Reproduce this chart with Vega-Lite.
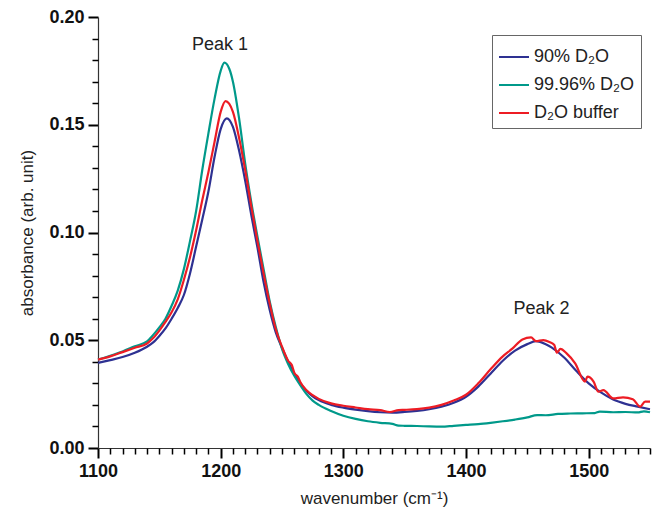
{
  "$schema": "https://vega.github.io/schema/vega-lite/v6.json",
  "width": 552,
  "height": 431,
  "autosize": {"type": "none"},
  "padding": {"left": 98, "top": 17, "right": 9, "bottom": 73},
  "background": "white",
  "config": {
    "view": {"stroke": null},
    "font": "Liberation Sans"
  },
  "datasets": {
    "spectra": [
      {"series": "90% D₂O", "wn": 1100, "abs": 0.0395},
      {"series": "90% D₂O", "wn": 1110, "abs": 0.0408},
      {"series": "90% D₂O", "wn": 1120, "abs": 0.0422},
      {"series": "90% D₂O", "wn": 1130, "abs": 0.0442},
      {"series": "90% D₂O", "wn": 1140, "abs": 0.0470},
      {"series": "90% D₂O", "wn": 1145, "abs": 0.0490},
      {"series": "90% D₂O", "wn": 1150, "abs": 0.0520},
      {"series": "90% D₂O", "wn": 1155, "abs": 0.0555},
      {"series": "90% D₂O", "wn": 1160, "abs": 0.0600},
      {"series": "90% D₂O", "wn": 1165, "abs": 0.0650},
      {"series": "90% D₂O", "wn": 1170, "abs": 0.0710},
      {"series": "90% D₂O", "wn": 1175, "abs": 0.0810},
      {"series": "90% D₂O", "wn": 1180, "abs": 0.0935},
      {"series": "90% D₂O", "wn": 1185, "abs": 0.1060},
      {"series": "90% D₂O", "wn": 1190, "abs": 0.1190},
      {"series": "90% D₂O", "wn": 1195, "abs": 0.1350},
      {"series": "90% D₂O", "wn": 1200, "abs": 0.1480},
      {"series": "90% D₂O", "wn": 1205, "abs": 0.1530},
      {"series": "90% D₂O", "wn": 1210, "abs": 0.1490},
      {"series": "90% D₂O", "wn": 1215, "abs": 0.1380},
      {"series": "90% D₂O", "wn": 1220, "abs": 0.1240},
      {"series": "90% D₂O", "wn": 1225, "abs": 0.1080},
      {"series": "90% D₂O", "wn": 1230, "abs": 0.0930},
      {"series": "90% D₂O", "wn": 1235, "abs": 0.0770},
      {"series": "90% D₂O", "wn": 1240, "abs": 0.0640},
      {"series": "90% D₂O", "wn": 1245, "abs": 0.0535},
      {"series": "90% D₂O", "wn": 1250, "abs": 0.0465},
      {"series": "90% D₂O", "wn": 1255, "abs": 0.0400},
      {"series": "90% D₂O", "wn": 1260, "abs": 0.0345},
      {"series": "90% D₂O", "wn": 1265, "abs": 0.0300},
      {"series": "90% D₂O", "wn": 1270, "abs": 0.0265},
      {"series": "90% D₂O", "wn": 1275, "abs": 0.0240},
      {"series": "90% D₂O", "wn": 1280, "abs": 0.0222},
      {"series": "90% D₂O", "wn": 1290, "abs": 0.0200},
      {"series": "90% D₂O", "wn": 1300, "abs": 0.0187},
      {"series": "90% D₂O", "wn": 1310, "abs": 0.0178},
      {"series": "90% D₂O", "wn": 1320, "abs": 0.0171},
      {"series": "90% D₂O", "wn": 1330, "abs": 0.0166},
      {"series": "90% D₂O", "wn": 1340, "abs": 0.0164},
      {"series": "90% D₂O", "wn": 1350, "abs": 0.0167},
      {"series": "90% D₂O", "wn": 1360, "abs": 0.0172},
      {"series": "90% D₂O", "wn": 1370, "abs": 0.0180},
      {"series": "90% D₂O", "wn": 1380, "abs": 0.0192},
      {"series": "90% D₂O", "wn": 1390, "abs": 0.0210},
      {"series": "90% D₂O", "wn": 1400, "abs": 0.0238},
      {"series": "90% D₂O", "wn": 1410, "abs": 0.0285},
      {"series": "90% D₂O", "wn": 1420, "abs": 0.0345},
      {"series": "90% D₂O", "wn": 1430, "abs": 0.0405},
      {"series": "90% D₂O", "wn": 1440, "abs": 0.0452},
      {"series": "90% D₂O", "wn": 1450, "abs": 0.0482},
      {"series": "90% D₂O", "wn": 1457, "abs": 0.0496},
      {"series": "90% D₂O", "wn": 1465, "abs": 0.0482},
      {"series": "90% D₂O", "wn": 1470, "abs": 0.0466},
      {"series": "90% D₂O", "wn": 1480, "abs": 0.0420},
      {"series": "90% D₂O", "wn": 1490, "abs": 0.0357},
      {"series": "90% D₂O", "wn": 1500, "abs": 0.0300},
      {"series": "90% D₂O", "wn": 1510, "abs": 0.0258},
      {"series": "90% D₂O", "wn": 1520, "abs": 0.0225},
      {"series": "90% D₂O", "wn": 1530, "abs": 0.0205},
      {"series": "90% D₂O", "wn": 1540, "abs": 0.0192},
      {"series": "90% D₂O", "wn": 1550, "abs": 0.0180},

      {"series": "99.96% D₂O", "wn": 1100, "abs": 0.0410},
      {"series": "99.96% D₂O", "wn": 1110, "abs": 0.0428},
      {"series": "99.96% D₂O", "wn": 1120, "abs": 0.0448},
      {"series": "99.96% D₂O", "wn": 1130, "abs": 0.0472},
      {"series": "99.96% D₂O", "wn": 1140, "abs": 0.0495},
      {"series": "99.96% D₂O", "wn": 1145, "abs": 0.0525},
      {"series": "99.96% D₂O", "wn": 1150, "abs": 0.0560},
      {"series": "99.96% D₂O", "wn": 1155, "abs": 0.0600},
      {"series": "99.96% D₂O", "wn": 1160, "abs": 0.0660},
      {"series": "99.96% D₂O", "wn": 1165, "abs": 0.0730},
      {"series": "99.96% D₂O", "wn": 1170, "abs": 0.0830},
      {"series": "99.96% D₂O", "wn": 1175, "abs": 0.0960},
      {"series": "99.96% D₂O", "wn": 1180, "abs": 0.1100},
      {"series": "99.96% D₂O", "wn": 1185, "abs": 0.1290},
      {"series": "99.96% D₂O", "wn": 1190, "abs": 0.1460},
      {"series": "99.96% D₂O", "wn": 1195, "abs": 0.1620},
      {"series": "99.96% D₂O", "wn": 1200, "abs": 0.1750},
      {"series": "99.96% D₂O", "wn": 1203, "abs": 0.1788},
      {"series": "99.96% D₂O", "wn": 1207, "abs": 0.1760},
      {"series": "99.96% D₂O", "wn": 1210, "abs": 0.1700},
      {"series": "99.96% D₂O", "wn": 1215, "abs": 0.1530},
      {"series": "99.96% D₂O", "wn": 1220, "abs": 0.1320},
      {"series": "99.96% D₂O", "wn": 1225, "abs": 0.1140},
      {"series": "99.96% D₂O", "wn": 1230, "abs": 0.0980},
      {"series": "99.96% D₂O", "wn": 1235, "abs": 0.0830},
      {"series": "99.96% D₂O", "wn": 1240, "abs": 0.0680},
      {"series": "99.96% D₂O", "wn": 1245, "abs": 0.0560},
      {"series": "99.96% D₂O", "wn": 1250, "abs": 0.0460},
      {"series": "99.96% D₂O", "wn": 1255, "abs": 0.0390},
      {"series": "99.96% D₂O", "wn": 1260, "abs": 0.0335},
      {"series": "99.96% D₂O", "wn": 1265, "abs": 0.0290},
      {"series": "99.96% D₂O", "wn": 1270, "abs": 0.0250},
      {"series": "99.96% D₂O", "wn": 1275, "abs": 0.0220},
      {"series": "99.96% D₂O", "wn": 1280, "abs": 0.0200},
      {"series": "99.96% D₂O", "wn": 1290, "abs": 0.0172},
      {"series": "99.96% D₂O", "wn": 1300, "abs": 0.0150},
      {"series": "99.96% D₂O", "wn": 1310, "abs": 0.0135},
      {"series": "99.96% D₂O", "wn": 1320, "abs": 0.0124},
      {"series": "99.96% D₂O", "wn": 1330, "abs": 0.0117},
      {"series": "99.96% D₂O", "wn": 1340, "abs": 0.0112},
      {"series": "99.96% D₂O", "wn": 1345, "abs": 0.0104},
      {"series": "99.96% D₂O", "wn": 1350, "abs": 0.0103},
      {"series": "99.96% D₂O", "wn": 1360, "abs": 0.0102},
      {"series": "99.96% D₂O", "wn": 1370, "abs": 0.0100},
      {"series": "99.96% D₂O", "wn": 1380, "abs": 0.0099},
      {"series": "99.96% D₂O", "wn": 1390, "abs": 0.0103},
      {"series": "99.96% D₂O", "wn": 1400, "abs": 0.0107},
      {"series": "99.96% D₂O", "wn": 1410, "abs": 0.0111},
      {"series": "99.96% D₂O", "wn": 1420, "abs": 0.0117},
      {"series": "99.96% D₂O", "wn": 1430, "abs": 0.0124},
      {"series": "99.96% D₂O", "wn": 1440, "abs": 0.0132},
      {"series": "99.96% D₂O", "wn": 1450, "abs": 0.0142},
      {"series": "99.96% D₂O", "wn": 1458, "abs": 0.0153},
      {"series": "99.96% D₂O", "wn": 1465, "abs": 0.0152},
      {"series": "99.96% D₂O", "wn": 1475, "abs": 0.0158},
      {"series": "99.96% D₂O", "wn": 1485, "abs": 0.0160},
      {"series": "99.96% D₂O", "wn": 1495, "abs": 0.0161},
      {"series": "99.96% D₂O", "wn": 1505, "abs": 0.0162},
      {"series": "99.96% D₂O", "wn": 1509, "abs": 0.0169},
      {"series": "99.96% D₂O", "wn": 1520, "abs": 0.0166},
      {"series": "99.96% D₂O", "wn": 1530, "abs": 0.0167},
      {"series": "99.96% D₂O", "wn": 1540, "abs": 0.0165},
      {"series": "99.96% D₂O", "wn": 1545, "abs": 0.0170},
      {"series": "99.96% D₂O", "wn": 1550, "abs": 0.0166},

      {"series": "D₂O buffer", "wn": 1100, "abs": 0.0410},
      {"series": "D₂O buffer", "wn": 1110, "abs": 0.0425},
      {"series": "D₂O buffer", "wn": 1120, "abs": 0.0445},
      {"series": "D₂O buffer", "wn": 1130, "abs": 0.0465},
      {"series": "D₂O buffer", "wn": 1140, "abs": 0.0485},
      {"series": "D₂O buffer", "wn": 1145, "abs": 0.0510},
      {"series": "D₂O buffer", "wn": 1150, "abs": 0.0545},
      {"series": "D₂O buffer", "wn": 1155, "abs": 0.0585},
      {"series": "D₂O buffer", "wn": 1160, "abs": 0.0630},
      {"series": "D₂O buffer", "wn": 1165, "abs": 0.0690},
      {"series": "D₂O buffer", "wn": 1170, "abs": 0.0780},
      {"series": "D₂O buffer", "wn": 1175, "abs": 0.0885},
      {"series": "D₂O buffer", "wn": 1180, "abs": 0.1010},
      {"series": "D₂O buffer", "wn": 1185, "abs": 0.1150},
      {"series": "D₂O buffer", "wn": 1190, "abs": 0.1280},
      {"series": "D₂O buffer", "wn": 1195, "abs": 0.1420},
      {"series": "D₂O buffer", "wn": 1200, "abs": 0.1560},
      {"series": "D₂O buffer", "wn": 1204, "abs": 0.1610},
      {"series": "D₂O buffer", "wn": 1210, "abs": 0.1560},
      {"series": "D₂O buffer", "wn": 1215, "abs": 0.1440},
      {"series": "D₂O buffer", "wn": 1220, "abs": 0.1290},
      {"series": "D₂O buffer", "wn": 1225, "abs": 0.1120},
      {"series": "D₂O buffer", "wn": 1230, "abs": 0.0960},
      {"series": "D₂O buffer", "wn": 1235, "abs": 0.0810},
      {"series": "D₂O buffer", "wn": 1240, "abs": 0.0670},
      {"series": "D₂O buffer", "wn": 1245, "abs": 0.0550},
      {"series": "D₂O buffer", "wn": 1250, "abs": 0.0470},
      {"series": "D₂O buffer", "wn": 1255, "abs": 0.0405},
      {"series": "D₂O buffer", "wn": 1258, "abs": 0.0385},
      {"series": "D₂O buffer", "wn": 1260, "abs": 0.0350},
      {"series": "D₂O buffer", "wn": 1263, "abs": 0.0330},
      {"series": "D₂O buffer", "wn": 1265, "abs": 0.0305},
      {"series": "D₂O buffer", "wn": 1270, "abs": 0.0268},
      {"series": "D₂O buffer", "wn": 1275, "abs": 0.0245},
      {"series": "D₂O buffer", "wn": 1280, "abs": 0.0228},
      {"series": "D₂O buffer", "wn": 1290, "abs": 0.0207},
      {"series": "D₂O buffer", "wn": 1300, "abs": 0.0196},
      {"series": "D₂O buffer", "wn": 1310, "abs": 0.0188},
      {"series": "D₂O buffer", "wn": 1320, "abs": 0.0180},
      {"series": "D₂O buffer", "wn": 1330, "abs": 0.0176},
      {"series": "D₂O buffer", "wn": 1338, "abs": 0.0167},
      {"series": "D₂O buffer", "wn": 1345, "abs": 0.0176},
      {"series": "D₂O buffer", "wn": 1350, "abs": 0.0177},
      {"series": "D₂O buffer", "wn": 1360, "abs": 0.0180},
      {"series": "D₂O buffer", "wn": 1370, "abs": 0.0187},
      {"series": "D₂O buffer", "wn": 1380, "abs": 0.0200},
      {"series": "D₂O buffer", "wn": 1390, "abs": 0.0220},
      {"series": "D₂O buffer", "wn": 1400, "abs": 0.0247},
      {"series": "D₂O buffer", "wn": 1410, "abs": 0.0300},
      {"series": "D₂O buffer", "wn": 1420, "abs": 0.0365},
      {"series": "D₂O buffer", "wn": 1430, "abs": 0.0425},
      {"series": "D₂O buffer", "wn": 1438, "abs": 0.0462},
      {"series": "D₂O buffer", "wn": 1446, "abs": 0.0504},
      {"series": "D₂O buffer", "wn": 1453, "abs": 0.0513},
      {"series": "D₂O buffer", "wn": 1457, "abs": 0.0496},
      {"series": "D₂O buffer", "wn": 1463, "abs": 0.0501},
      {"series": "D₂O buffer", "wn": 1468, "abs": 0.0492},
      {"series": "D₂O buffer", "wn": 1472, "abs": 0.0478},
      {"series": "D₂O buffer", "wn": 1474, "abs": 0.0442},
      {"series": "D₂O buffer", "wn": 1477, "abs": 0.0460},
      {"series": "D₂O buffer", "wn": 1482, "abs": 0.0439},
      {"series": "D₂O buffer", "wn": 1489, "abs": 0.0393},
      {"series": "D₂O buffer", "wn": 1497, "abs": 0.0308},
      {"series": "D₂O buffer", "wn": 1499, "abs": 0.0331},
      {"series": "D₂O buffer", "wn": 1504, "abs": 0.0308},
      {"series": "D₂O buffer", "wn": 1508, "abs": 0.0261},
      {"series": "D₂O buffer", "wn": 1512, "abs": 0.0269},
      {"series": "D₂O buffer", "wn": 1520, "abs": 0.0230},
      {"series": "D₂O buffer", "wn": 1528, "abs": 0.0235},
      {"series": "D₂O buffer", "wn": 1536, "abs": 0.0226},
      {"series": "D₂O buffer", "wn": 1542, "abs": 0.0192},
      {"series": "D₂O buffer", "wn": 1546, "abs": 0.0215},
      {"series": "D₂O buffer", "wn": 1550, "abs": 0.0215}
    ],
    "labels": [
      {"text": "Peak 1", "wn": 1199.5, "abs": 0.187},
      {"text": "Peak 2", "wn": 1461.5, "abs": 0.0643}
    ]
  },
  "resolve": {"axis": {"x": "independent", "y": "independent"}},
  "layer": [
    {
      "data": {"name": "spectra"},
      "mark": {"type": "line", "strokeWidth": 2.2, "interpolate": "monotone"},
      "encoding": {
        "x": {
          "field": "wn", "type": "quantitative",
          "scale": {"domain": [1100, 1550], "nice": false, "zero": false},
          "axis": {
            "orient": "bottom",
            "title": "wavenumber (cm⁻¹)",
            "values": [1100, 1200, 1300, 1400, 1500],
            "format": "d",
            "labelFlush": false,
            "labelOverlap": false,
            "grid": false,
            "ticks": true,
            "tickSize": 10,
            "tickWidth": 2,
            "tickColor": "black",
            "domainColor": "#333333",
            "domainWidth": 1.2,
            "labelFont": "Liberation Sans",
            "labelFontWeight": "bold",
            "labelFontSize": 18,
            "labelColor": "#111111",
            "labelPadding": 4,
            "titleFont": "Liberation Sans",
            "titleFontWeight": "normal",
            "titleFontSize": 17,
            "titleColor": "#222222",
            "titlePadding": 10
          }
        },
        "y": {
          "field": "abs", "type": "quantitative",
          "scale": {"domain": [0, 0.2], "nice": false},
          "axis": {
            "orient": "left",
            "title": "absorbance (arb. unit)",
            "values": [0, 0.05, 0.1, 0.15, 0.2],
            "format": ".2f",
            "labelFlush": false,
            "labelOverlap": false,
            "grid": false,
            "ticks": true,
            "tickSize": 10,
            "tickWidth": 2,
            "tickColor": "black",
            "domainColor": "#333333",
            "domainWidth": 1.2,
            "labelFont": "Liberation Sans",
            "labelFontWeight": "bold",
            "labelFontSize": 18,
            "labelColor": "#111111",
            "labelPadding": 4,
            "titleFont": "Liberation Sans",
            "titleFontWeight": "normal",
            "titleFontSize": 17,
            "titleColor": "#222222",
            "titlePadding": 12
          }
        },
        "color": {
          "field": "series", "type": "nominal",
          "scale": {
            "domain": ["90% D₂O", "99.96% D₂O", "D₂O buffer"],
            "range": ["#2E3192", "#00998A", "#ED1C24"]
          },
          "legend": {
            "title": null,
            "orient": "none",
            "legendX": 394,
            "legendY": 18,
            "symbolType": "stroke",
            "symbolSize": 900,
            "symbolStrokeWidth": 2,
            "labelFont": "Liberation Sans",
            "labelFontSize": 18,
            "labelColor": "#222222",
            "padding": 6,
            "rowPadding": 3,
            "strokeColor": "#666666",
            "fillColor": "white",
            "labelLimit": 200
          }
        }
      }
    },
    {
      "data": {"name": "labels"},
      "mark": {"type": "text", "font": "Liberation Sans", "fontSize": 18, "color": "#222222", "baseline": "middle", "align": "center"},
      "encoding": {
        "x": {
          "field": "wn", "type": "quantitative",
          "axis": {
            "orient": "bottom",
            "title": null,
            "values": [1110,1120,1130,1140,1150,1160,1170,1180,1190,1210,1220,1230,1240,1250,1260,1270,1280,1290,1310,1320,1330,1340,1350,1360,1370,1380,1390,1410,1420,1430,1440,1450,1460,1470,1480,1490,1510,1520,1530,1540,1550],
            "labels": false,
            "domain": false,
            "grid": false,
            "ticks": true,
            "tickSize": 6,
            "tickWidth": 1.5,
            "tickColor": "black"
          }
        },
        "y": {
          "field": "abs", "type": "quantitative",
          "axis": {
            "orient": "left",
            "title": null,
            "values": [0.01,0.02,0.03,0.04,0.06,0.07,0.08,0.09,0.11,0.12,0.13,0.14,0.16,0.17,0.18,0.19],
            "labels": false,
            "domain": false,
            "grid": false,
            "ticks": true,
            "tickSize": 6,
            "tickWidth": 1.5,
            "tickColor": "black"
          }
        },
        "text": {"field": "text"}
      }
    }
  ]
}
